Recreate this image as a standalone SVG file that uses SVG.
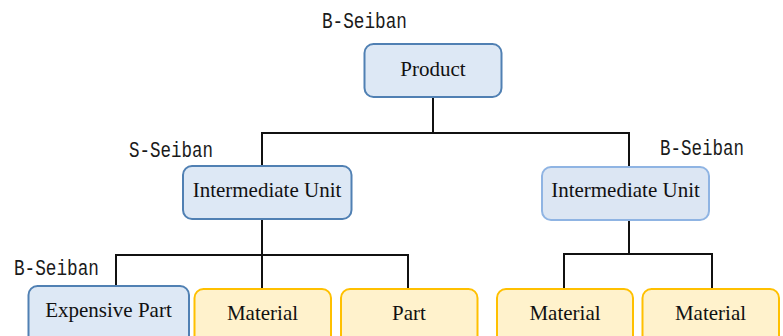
<svg xmlns="http://www.w3.org/2000/svg" width="783" height="336" viewBox="0 0 783 336">
  <style>
    .node-blue { fill: #dde8f5; stroke: #5080b3; stroke-width: 2; }
    .node-light { fill: #dce6f3; stroke: #8fb4e3; stroke-width: 2; }
    .node-yellow { fill: #fff2cc; stroke: #ffc000; stroke-width: 2; }
    .label { font-family: "Liberation Serif", "Times New Roman", serif; font-size: 21px; fill: #111; text-anchor: middle; }
    .seiban { font-family: "Liberation Mono", "Courier New", monospace; font-size: 22px; fill: #1a1a1a; }
    .wire { fill: none; stroke: #111; stroke-width: 2; }
  </style>
  <rect width="783" height="336" fill="#ffffff"/>

  <!-- connectors -->
  <g id="connectors">
    <path class="wire" d="M433 97 V133 M262 166 V133 H629 V167"/>
    <path class="wire" d="M262 219 V288 M116 286 V255 H408 V289"/>
    <path class="wire" d="M629 220 V254 M564 289 V254 H712 V289"/>
  </g>

  <!-- seiban annotations -->
  <g id="annotations">
    <text class="seiban" x="322" y="28" textLength="85" lengthAdjust="spacingAndGlyphs">B-Seiban</text>
    <text class="seiban" x="129" y="157" textLength="84" lengthAdjust="spacingAndGlyphs">S-Seiban</text>
    <text class="seiban" x="660" y="155" textLength="84" lengthAdjust="spacingAndGlyphs">B-Seiban</text>
    <text class="seiban" x="14" y="275" textLength="85" lengthAdjust="spacingAndGlyphs">B-Seiban</text>
  </g>

  <g id="product">
    <rect class="node-blue" x="364.5" y="44" width="137" height="53" rx="9"/>
    <text class="label" x="433" y="76">Product</text>
  </g>

  <g id="unit-left">
    <rect class="node-blue" x="183" y="166" width="168.5" height="53" rx="9"/>
    <text class="label" x="267" y="197">Intermediate Unit</text>
  </g>

  <g id="unit-right">
    <rect class="node-light" x="542" y="167" width="167" height="53" rx="9"/>
    <text class="label" x="625.5" y="197">Intermediate Unit</text>
  </g>

  <g id="expensive-part">
    <rect class="node-blue" x="28.5" y="286" width="160.5" height="60" rx="9"/>
    <text class="label" x="108.5" y="317">Expensive Part</text>
  </g>

  <g id="material-1">
    <rect class="node-yellow" x="194.5" y="289" width="136.5" height="60" rx="9"/>
    <text class="label" x="262.5" y="320">Material</text>
  </g>

  <g id="part">
    <rect class="node-yellow" x="341" y="289" width="136.5" height="60" rx="9"/>
    <text class="label" x="409" y="320">Part</text>
  </g>

  <g id="material-2">
    <rect class="node-yellow" x="497" y="289" width="136" height="60" rx="9"/>
    <text class="label" x="565" y="320">Material</text>
  </g>

  <g id="material-3">
    <rect class="node-yellow" x="642.5" y="289" width="136.5" height="60" rx="9"/>
    <text class="label" x="710.5" y="320">Material</text>
  </g>
</svg>
